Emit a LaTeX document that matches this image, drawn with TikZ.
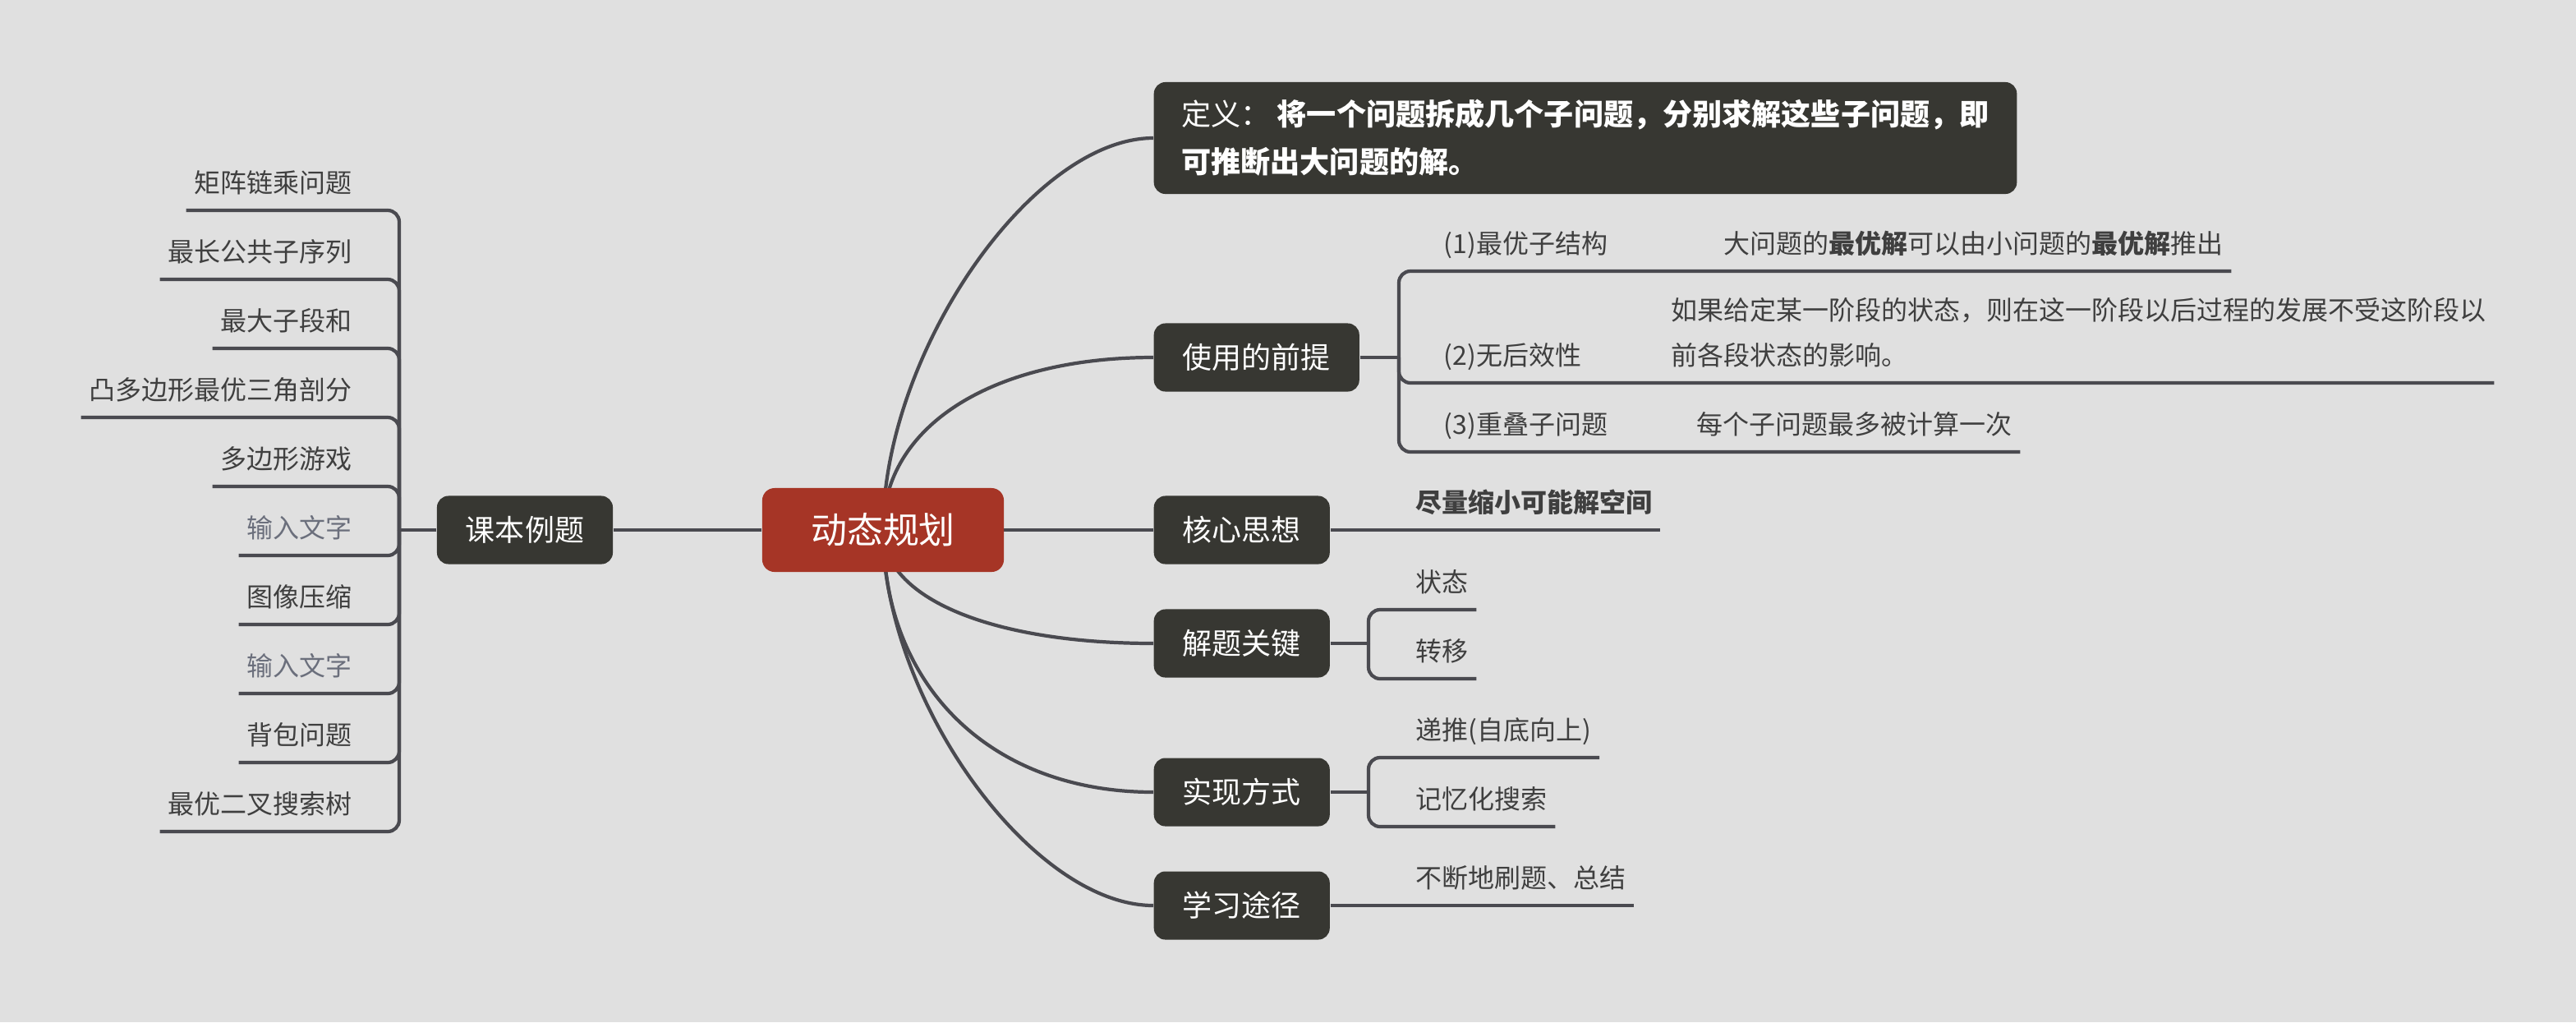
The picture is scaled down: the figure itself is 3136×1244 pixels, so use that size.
\documentclass[tikz,border=0pt]{standalone}
\usepackage{fontspec}
\setmainfont{Noto Sans CJK SC}
\usetikzlibrary{calc,backgrounds}
\definecolor{bgc}{HTML}{E0E0E0}
\definecolor{boxc}{HTML}{373732}
\definecolor{redc}{HTML}{A63526}
\definecolor{linec}{HTML}{4A4A50}
\definecolor{leafc}{HTML}{3F3F3F}
\definecolor{hintc}{HTML}{6B6F7C}
\begin{document}
\begin{tikzpicture}[x=0.01cm,y=-0.01cm,
  rootbox/.style={fill=redc, text=white, rounded corners=0.15cm,
    font=\fontsize{12.5pt}{15pt}\selectfont, minimum width=2.94cm, minimum height=1.02cm,
    inner sep=0pt, text height=10.6pt, text depth=1.25pt},
  mainbox/.style={fill=boxc, text=white, rounded corners=0.14cm,
    font=\fontsize{10.24pt}{12pt}\selectfont, inner xsep=0.35cm, inner ysep=0pt,
    minimum height=0.83cm, text height=8.7pt, text depth=1pt},
  defbox/.style={fill=boxc, text=white, rounded corners=0.14cm, align=left,
    font=\fontsize{10.27pt}{16.5pt}\selectfont, inner sep=0pt,
    minimum width=10.5cm, minimum height=1.36cm},
  leaf/.style={text=leafc, font=\fontsize{9.1pt}{11pt}\selectfont,
    inner xsep=0.09cm, inner ysep=0.18cm, text height=7.7pt, text depth=0.9pt},
  leafml/.style={text=leafc, font=\fontsize{9.1pt}{15.4pt}\selectfont, align=left,
    inner xsep=0.09cm, inner ysep=0.18cm, text depth=0.9pt},
  hint/.style={leaf, text=hintc},
  conn/.style={draw=linec, line width=1.2pt},
  brk/.style={conn, rounded corners=0.14cm}]
\begin{scope}[on background layer]
\fill[bgc] (0,0) rectangle (3136,1244);
\end{scope}
\useasboundingbox (0,0) rectangle (3136,1244);

% central and main nodes
\node[rootbox] (c) at (1075,645) {动态规划};
\node[mainbox] (book) at (639,645) {课本例题};
\node[defbox, anchor=west] (def) at (1404,168) {定义： \textbf{将一个问题拆成几个子问题，分别求解这些子问题，即}\\\textbf{可推断出大问题的解。}};
\node[mainbox, anchor=west] (pre) at (1404,435) {使用的前提};
\node[mainbox, anchor=west] (core) at (1404,645) {核心思想};
\node[mainbox, anchor=west] (key) at (1404,783) {解题关键};
\node[mainbox, anchor=west] (impl) at (1404,964) {实现方式};
\node[mainbox, anchor=west] (learn) at (1404,1102) {学习途径};

% left leaves
\coordinate (bookb) at (486,645);
\node[leaf, anchor=south east] (b1) at (438,256) {矩阵链乘问题};
\node[leaf, anchor=south east] (b2) at (438,340) {最长公共子序列};
\node[leaf, anchor=south east] (b3) at (438,424) {最大子段和};
\node[leaf, anchor=south east] (b4) at (438,508) {凸多边形最优三角剖分};
\node[leaf, anchor=south east] (b5) at (438,592) {多边形游戏};
\node[hint, anchor=south east] (b6) at (438,676) {输入文字};
\node[leaf, anchor=south east] (b7) at (438,760) {图像压缩};
\node[hint, anchor=south east] (b8) at (438,844) {输入文字};
\node[leaf, anchor=south east] (b9) at (438,928) {背包问题};
\node[leaf, anchor=south east] (b10) at (438,1012) {最优二叉搜索树};

% 使用的前提 leaves
\coordinate (preb) at (1703,435);
\node[leaf, anchor=south west] (p1) at (1748,330) {(1)最优子结构};
\node[leaf, anchor=south west] (p1d) at (2089,330) {大问题的\textbf{最优解}可以由小问题的\textbf{最优解}推出};
\node[leaf, anchor=south west] (p2) at (1748,466) {(2)无后效性};
\node[leafml, anchor=south west] (p2d) at (2025,466) {如果给定某一阶段的状态，则在这一阶段以后过程的发展不受这阶段以\\前各段状态的影响。};
\node[leaf, anchor=south west] (p3) at (1748,550) {(3)重叠子问题};
\node[leaf, anchor=south west] (p3d) at (2056,550) {每个子问题最多被计算一次};

% 核心思想
\node[leaf, anchor=south west] (k0) at (1714,645) {\textbf{尽量缩小可能解空间}};

% 解题关键
\coordinate (keyb) at (1666,783);
\node[leaf, anchor=south west] (k1) at (1714,742) {状态};
\node[leaf, anchor=south west] (k2) at (1714,826) {转移};

% 实现方式
\coordinate (implb) at (1666,964);
\node[leaf, anchor=south west] (i1) at (1714,922) {递推(自底向上)};
\node[leaf, anchor=south west] (i2) at (1714,1006) {记忆化搜索};

% 学习途径
\node[leaf, anchor=south west] (l1) at (1714,1102) {不断地刷题、总结};

\begin{scope}[on background layer]
\draw[conn] (book.east) -- (c.west);
\draw[conn] (c.center) .. controls ($(c.center)+(0,-215)$) and ($(def.west)+(-148,0)$) .. (def.west);
\draw[conn] (c.center) .. controls ($(c.center)+(0,-126)$) and ($(pre.west)+(-197,0)$) .. (pre.west);
\draw[conn] (c.center) -- (core.west);
\draw[conn] (c.center) .. controls ($(c.center)+(0,83)$) and ($(key.west)+(-197,0)$) .. (key.west);
\draw[conn] (c.center) .. controls ($(c.center)+(0,191)$) and ($(impl.west)+(-197,0)$) .. (impl.west);
\draw[conn] (c.center) .. controls ($(c.center)+(0,206)$) and ($(learn.west)+(-148,0)$) .. (learn.west);

\draw[conn] (book.west) -- (bookb);
\foreach \n in {b1,b2,b3,b4,b5,b6,b7,b8,b9,b10}
  \draw[brk] (bookb) |- (\n.south west);

\draw[conn] (pre.east) -- (preb);
\draw[brk] (preb) |- (p1d.south east);
\draw[brk] (preb) |- (p2d.south east);
\draw[brk] (preb) |- (p3d.south east);

\draw[conn] (core.east) -- (k0.south east);

\draw[conn] (key.east) -- (keyb);
\draw[brk] (keyb) |- (k1.south east);
\draw[brk] (keyb) |- (k2.south east);

\draw[conn] (impl.east) -- (implb);
\draw[brk] (implb) |- (i1.south east);
\draw[brk] (implb) |- (i2.south east);

\draw[conn] (learn.east) -- (l1.south east);
\end{scope}
\end{tikzpicture}
\end{document}
